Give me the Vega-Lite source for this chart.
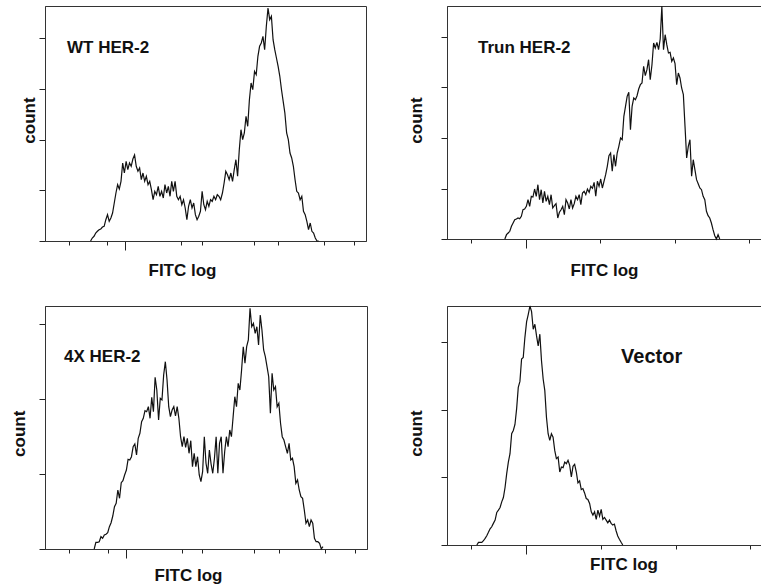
{
  "$schema": "https://vega.github.io/schema/vega-lite/v6.json",
  "background": "white",
  "padding": {"left": 9, "top": 3, "right": 0, "bottom": 0},
  "columns": 2,
  "bounds": "flush",
  "spacing": {"row": 65, "column": 80},
  "config": {
    "view": {"stroke": "#333333", "strokeWidth": 1},
    "font": "Liberation Sans",
    "axis": {"labels": false, "grid": false, "tickColor": "#222222", "domainColor": "#333333", "titleFont": "Liberation Sans", "titleFontSize": 17, "titleFontWeight": "bold", "titleColor": "#111111", "titleBaseline": "alphabetic", "titleAlign": "center"},
    "axisY": {"tickSize": 6, "titleAngle": 270},
    "line": {"color": "#111111", "strokeWidth": 1.2},
    "text": {"font": "Liberation Sans", "fontWeight": "bold", "color": "#111111", "align": "left", "baseline": "alphabetic"}
  },
  "datasets": {
    "wt": [
      {"fitc_log":0.568,"count":0},{"fitc_log":0.589,"count":3},{"fitc_log":0.611,"count":4.7},{"fitc_log":0.632,"count":8},{"fitc_log":0.653,"count":9.7},{"fitc_log":0.674,"count":11.3},{"fitc_log":0.695,"count":12},{"fitc_log":0.716,"count":14},{"fitc_log":0.737,"count":14.7},{"fitc_log":0.758,"count":21.3},{"fitc_log":0.779,"count":26.3},{"fitc_log":0.8,"count":19.7},{"fitc_log":0.821,"count":23},{"fitc_log":0.842,"count":28},{"fitc_log":0.863,"count":38},{"fitc_log":0.884,"count":48},{"fitc_log":0.905,"count":56.3},{"fitc_log":0.926,"count":52},{"fitc_log":0.947,"count":59.7},{"fitc_log":0.968,"count":78},{"fitc_log":0.989,"count":68},{"fitc_log":1.011,"count":79.7},{"fitc_log":1.032,"count":71.3},{"fitc_log":1.053,"count":78},{"fitc_log":1.074,"count":74.7},{"fitc_log":1.095,"count":82},{"fitc_log":1.116,"count":86},{"fitc_log":1.137,"count":74.7},{"fitc_log":1.158,"count":69.7},{"fitc_log":1.179,"count":73},{"fitc_log":1.2,"count":61.3},{"fitc_log":1.221,"count":68},{"fitc_log":1.242,"count":59.7},{"fitc_log":1.263,"count":64.7},{"fitc_log":1.284,"count":56.3},{"fitc_log":1.305,"count":59.7},{"fitc_log":1.326,"count":51.3},{"fitc_log":1.347,"count":41.3},{"fitc_log":1.368,"count":49.7},{"fitc_log":1.389,"count":46.3},{"fitc_log":1.411,"count":54.7},{"fitc_log":1.432,"count":44.7},{"fitc_log":1.453,"count":49.7},{"fitc_log":1.474,"count":43},{"fitc_log":1.495,"count":56.3},{"fitc_log":1.516,"count":48},{"fitc_log":1.537,"count":54.7},{"fitc_log":1.558,"count":44.7},{"fitc_log":1.579,"count":59.7},{"fitc_log":1.6,"count":49.7},{"fitc_log":1.621,"count":59.7},{"fitc_log":1.642,"count":44.7},{"fitc_log":1.663,"count":41.3},{"fitc_log":1.684,"count":44.7},{"fitc_log":1.705,"count":36.3},{"fitc_log":1.726,"count":41.3},{"fitc_log":1.747,"count":33},{"fitc_log":1.768,"count":21.3},{"fitc_log":1.789,"count":34.7},{"fitc_log":1.811,"count":41.3},{"fitc_log":1.832,"count":33},{"fitc_log":1.853,"count":38},{"fitc_log":1.874,"count":26.3},{"fitc_log":1.895,"count":21.3},{"fitc_log":1.916,"count":24.7},{"fitc_log":1.937,"count":29.7},{"fitc_log":1.958,"count":49.7},{"fitc_log":1.979,"count":36.3},{"fitc_log":2.0,"count":31.3},{"fitc_log":2.021,"count":39.7},{"fitc_log":2.042,"count":34.7},{"fitc_log":2.063,"count":41.3},{"fitc_log":2.084,"count":39.7},{"fitc_log":2.105,"count":44.7},{"fitc_log":2.126,"count":41.3},{"fitc_log":2.147,"count":46.3},{"fitc_log":2.168,"count":44.7},{"fitc_log":2.189,"count":41.3},{"fitc_log":2.211,"count":48},{"fitc_log":2.232,"count":58},{"fitc_log":2.253,"count":69.7},{"fitc_log":2.274,"count":66.3},{"fitc_log":2.295,"count":61.3},{"fitc_log":2.316,"count":68},{"fitc_log":2.337,"count":59.7},{"fitc_log":2.358,"count":71.3},{"fitc_log":2.379,"count":81.3},{"fitc_log":2.4,"count":64.7},{"fitc_log":2.421,"count":91.3},{"fitc_log":2.442,"count":111.3},{"fitc_log":2.463,"count":101.3},{"fitc_log":2.484,"count":108},{"fitc_log":2.505,"count":124.7},{"fitc_log":2.526,"count":114.7},{"fitc_log":2.547,"count":141.3},{"fitc_log":2.568,"count":158},{"fitc_log":2.589,"count":151.3},{"fitc_log":2.611,"count":169.7},{"fitc_log":2.632,"count":166.3},{"fitc_log":2.653,"count":184.7},{"fitc_log":2.674,"count":194.7},{"fitc_log":2.695,"count":198},{"fitc_log":2.716,"count":204.7},{"fitc_log":2.737,"count":191.3},{"fitc_log":2.758,"count":214.7},{"fitc_log":2.779,"count":233},{"fitc_log":2.8,"count":221.3},{"fitc_log":2.821,"count":224.7},{"fitc_log":2.842,"count":201.3},{"fitc_log":2.863,"count":191.3},{"fitc_log":2.884,"count":183},{"fitc_log":2.905,"count":174.7},{"fitc_log":2.926,"count":164.7},{"fitc_log":2.947,"count":151.3},{"fitc_log":2.968,"count":139.7},{"fitc_log":2.989,"count":128},{"fitc_log":3.011,"count":108},{"fitc_log":3.032,"count":101.3},{"fitc_log":3.053,"count":88},{"fitc_log":3.074,"count":83},{"fitc_log":3.095,"count":74.7},{"fitc_log":3.116,"count":61.3},{"fitc_log":3.137,"count":49.7},{"fitc_log":3.158,"count":48},{"fitc_log":3.179,"count":41.3},{"fitc_log":3.2,"count":44.7},{"fitc_log":3.221,"count":29.7},{"fitc_log":3.242,"count":26.3},{"fitc_log":3.263,"count":19.7},{"fitc_log":3.284,"count":11.3},{"fitc_log":3.305,"count":18},{"fitc_log":3.326,"count":9.7},{"fitc_log":3.347,"count":8},{"fitc_log":3.368,"count":3},{"fitc_log":3.389,"count":0},{"fitc_log":3.411,"count":0}
    ],
    "trun": [
      {"fitc_log":0.737,"count":0},{"fitc_log":0.758,"count":4.3},{"fitc_log":0.779,"count":6},{"fitc_log":0.8,"count":7.7},{"fitc_log":0.821,"count":12.7},{"fitc_log":0.842,"count":16},{"fitc_log":0.863,"count":19.3},{"fitc_log":0.884,"count":20},{"fitc_log":0.905,"count":21},{"fitc_log":0.926,"count":20.3},{"fitc_log":0.947,"count":22.7},{"fitc_log":0.968,"count":29.3},{"fitc_log":0.989,"count":30},{"fitc_log":1.011,"count":32.7},{"fitc_log":1.032,"count":39.3},{"fitc_log":1.053,"count":32.7},{"fitc_log":1.074,"count":42.7},{"fitc_log":1.095,"count":42},{"fitc_log":1.116,"count":50},{"fitc_log":1.137,"count":42.7},{"fitc_log":1.158,"count":54.3},{"fitc_log":1.179,"count":39.3},{"fitc_log":1.2,"count":49.3},{"fitc_log":1.221,"count":36},{"fitc_log":1.242,"count":47.7},{"fitc_log":1.263,"count":37.7},{"fitc_log":1.284,"count":42.7},{"fitc_log":1.305,"count":34.3},{"fitc_log":1.326,"count":44.3},{"fitc_log":1.347,"count":31},{"fitc_log":1.368,"count":33.3},{"fitc_log":1.389,"count":35.3},{"fitc_log":1.411,"count":21},{"fitc_log":1.432,"count":26.7},{"fitc_log":1.453,"count":29.3},{"fitc_log":1.474,"count":32.7},{"fitc_log":1.495,"count":24.3},{"fitc_log":1.516,"count":39.3},{"fitc_log":1.537,"count":36},{"fitc_log":1.558,"count":30},{"fitc_log":1.579,"count":39.3},{"fitc_log":1.6,"count":31},{"fitc_log":1.621,"count":35.3},{"fitc_log":1.642,"count":42.7},{"fitc_log":1.663,"count":39.3},{"fitc_log":1.684,"count":44.3},{"fitc_log":1.705,"count":34.3},{"fitc_log":1.726,"count":46},{"fitc_log":1.747,"count":47.7},{"fitc_log":1.768,"count":44.3},{"fitc_log":1.789,"count":50},{"fitc_log":1.811,"count":46.7},{"fitc_log":1.832,"count":52.7},{"fitc_log":1.853,"count":50.7},{"fitc_log":1.874,"count":56.7},{"fitc_log":1.895,"count":42.7},{"fitc_log":1.916,"count":57.7},{"fitc_log":1.937,"count":52.7},{"fitc_log":1.958,"count":60},{"fitc_log":1.979,"count":51},{"fitc_log":2.0,"count":57.7},{"fitc_log":2.021,"count":64.3},{"fitc_log":2.042,"count":72.7},{"fitc_log":2.063,"count":83.3},{"fitc_log":2.084,"count":86},{"fitc_log":2.105,"count":67.7},{"fitc_log":2.126,"count":84.3},{"fitc_log":2.147,"count":72.7},{"fitc_log":2.168,"count":86},{"fitc_log":2.189,"count":92.7},{"fitc_log":2.211,"count":101},{"fitc_log":2.232,"count":99.3},{"fitc_log":2.253,"count":122.7},{"fitc_log":2.274,"count":132.7},{"fitc_log":2.295,"count":142.7},{"fitc_log":2.316,"count":146.7},{"fitc_log":2.337,"count":109.3},{"fitc_log":2.358,"count":132.7},{"fitc_log":2.379,"count":141},{"fitc_log":2.4,"count":139.3},{"fitc_log":2.421,"count":143.3},{"fitc_log":2.442,"count":150},{"fitc_log":2.463,"count":154.3},{"fitc_log":2.484,"count":156},{"fitc_log":2.505,"count":172.7},{"fitc_log":2.526,"count":163.3},{"fitc_log":2.547,"count":169.3},{"fitc_log":2.568,"count":179.3},{"fitc_log":2.589,"count":159.3},{"fitc_log":2.611,"count":174.3},{"fitc_log":2.632,"count":196},{"fitc_log":2.653,"count":191},{"fitc_log":2.674,"count":196.7},{"fitc_log":2.695,"count":189.3},{"fitc_log":2.716,"count":200},{"fitc_log":2.737,"count":232.7},{"fitc_log":2.758,"count":189.3},{"fitc_log":2.779,"count":204.3},{"fitc_log":2.8,"count":194.3},{"fitc_log":2.821,"count":186},{"fitc_log":2.842,"count":186.7},{"fitc_log":2.863,"count":177.7},{"fitc_log":2.884,"count":181},{"fitc_log":2.905,"count":175.3},{"fitc_log":2.926,"count":154.3},{"fitc_log":2.947,"count":166},{"fitc_log":2.968,"count":161},{"fitc_log":2.989,"count":151},{"fitc_log":3.011,"count":144.3},{"fitc_log":3.032,"count":112.7},{"fitc_log":3.053,"count":81},{"fitc_log":3.074,"count":92.7},{"fitc_log":3.095,"count":99.3},{"fitc_log":3.116,"count":62.7},{"fitc_log":3.137,"count":79.3},{"fitc_log":3.158,"count":69.3},{"fitc_log":3.179,"count":59.3},{"fitc_log":3.2,"count":55.3},{"fitc_log":3.221,"count":51},{"fitc_log":3.242,"count":49.3},{"fitc_log":3.263,"count":42.7},{"fitc_log":3.284,"count":39.3},{"fitc_log":3.305,"count":27.7},{"fitc_log":3.326,"count":23.3},{"fitc_log":3.347,"count":21},{"fitc_log":3.368,"count":16},{"fitc_log":3.389,"count":9.3},{"fitc_log":3.411,"count":3.3},{"fitc_log":3.432,"count":0},{"fitc_log":3.453,"count":4.3},{"fitc_log":3.474,"count":0}
    ],
    "x4": [
      {"fitc_log":0.611,"count":0},{"fitc_log":0.632,"count":6.7},{"fitc_log":0.653,"count":6.7},{"fitc_log":0.674,"count":7.3},{"fitc_log":0.695,"count":12.3},{"fitc_log":0.716,"count":10.7},{"fitc_log":0.737,"count":14},{"fitc_log":0.758,"count":14.7},{"fitc_log":0.779,"count":16.3},{"fitc_log":0.8,"count":22.3},{"fitc_log":0.821,"count":26.3},{"fitc_log":0.842,"count":33},{"fitc_log":0.863,"count":42.3},{"fitc_log":0.884,"count":45.7},{"fitc_log":0.905,"count":59},{"fitc_log":0.926,"count":50.7},{"fitc_log":0.947,"count":66.3},{"fitc_log":0.968,"count":68.3},{"fitc_log":0.989,"count":74},{"fitc_log":1.011,"count":79},{"fitc_log":1.032,"count":89.7},{"fitc_log":1.053,"count":89},{"fitc_log":1.074,"count":92.3},{"fitc_log":1.095,"count":102.3},{"fitc_log":1.116,"count":105},{"fitc_log":1.137,"count":94},{"fitc_log":1.158,"count":110.7},{"fitc_log":1.179,"count":115.7},{"fitc_log":1.2,"count":127.3},{"fitc_log":1.221,"count":130.7},{"fitc_log":1.242,"count":138.3},{"fitc_log":1.263,"count":137.3},{"fitc_log":1.284,"count":142.3},{"fitc_log":1.305,"count":130.7},{"fitc_log":1.326,"count":151.7},{"fitc_log":1.347,"count":137.3},{"fitc_log":1.368,"count":171.7},{"fitc_log":1.389,"count":159},{"fitc_log":1.411,"count":129},{"fitc_log":1.432,"count":150.7},{"fitc_log":1.453,"count":149},{"fitc_log":1.474,"count":174},{"fitc_log":1.495,"count":187.3},{"fitc_log":1.516,"count":169},{"fitc_log":1.537,"count":142.3},{"fitc_log":1.558,"count":132.3},{"fitc_log":1.579,"count":139},{"fitc_log":1.6,"count":142.3},{"fitc_log":1.621,"count":133},{"fitc_log":1.642,"count":142.3},{"fitc_log":1.663,"count":130.7},{"fitc_log":1.684,"count":112.3},{"fitc_log":1.705,"count":102.3},{"fitc_log":1.726,"count":112.3},{"fitc_log":1.747,"count":101.7},{"fitc_log":1.768,"count":110.7},{"fitc_log":1.789,"count":95.7},{"fitc_log":1.811,"count":108.3},{"fitc_log":1.832,"count":82.3},{"fitc_log":1.853,"count":95.7},{"fitc_log":1.874,"count":82.3},{"fitc_log":1.895,"count":92.3},{"fitc_log":1.916,"count":74},{"fitc_log":1.937,"count":67.3},{"fitc_log":1.958,"count":77.3},{"fitc_log":1.979,"count":112.3},{"fitc_log":2.0,"count":85.7},{"fitc_log":2.021,"count":75.7},{"fitc_log":2.042,"count":99},{"fitc_log":2.063,"count":85},{"fitc_log":2.084,"count":75.7},{"fitc_log":2.105,"count":90.7},{"fitc_log":2.126,"count":112.3},{"fitc_log":2.147,"count":75.7},{"fitc_log":2.168,"count":105.7},{"fitc_log":2.189,"count":112.3},{"fitc_log":2.211,"count":75.7},{"fitc_log":2.232,"count":97.3},{"fitc_log":2.253,"count":112.3},{"fitc_log":2.274,"count":102.3},{"fitc_log":2.295,"count":119},{"fitc_log":2.316,"count":112.3},{"fitc_log":2.337,"count":132.3},{"fitc_log":2.358,"count":152.3},{"fitc_log":2.379,"count":142.3},{"fitc_log":2.4,"count":165.7},{"fitc_log":2.421,"count":159},{"fitc_log":2.442,"count":179},{"fitc_log":2.463,"count":202.3},{"fitc_log":2.484,"count":185.7},{"fitc_log":2.505,"count":202.3},{"fitc_log":2.526,"count":209},{"fitc_log":2.547,"count":240.7},{"fitc_log":2.568,"count":222.3},{"fitc_log":2.589,"count":225.7},{"fitc_log":2.611,"count":215.7},{"fitc_log":2.632,"count":222.3},{"fitc_log":2.653,"count":204},{"fitc_log":2.674,"count":234},{"fitc_log":2.695,"count":219},{"fitc_log":2.716,"count":199},{"fitc_log":2.737,"count":192.3},{"fitc_log":2.758,"count":182.3},{"fitc_log":2.779,"count":172.3},{"fitc_log":2.8,"count":135.7},{"fitc_log":2.821,"count":175.7},{"fitc_log":2.842,"count":159},{"fitc_log":2.863,"count":162.3},{"fitc_log":2.884,"count":142.3},{"fitc_log":2.905,"count":145.7},{"fitc_log":2.926,"count":125.7},{"fitc_log":2.947,"count":112.3},{"fitc_log":2.968,"count":109},{"fitc_log":2.989,"count":102.3},{"fitc_log":3.011,"count":95.7},{"fitc_log":3.032,"count":105.7},{"fitc_log":3.053,"count":89},{"fitc_log":3.074,"count":90.7},{"fitc_log":3.095,"count":82.3},{"fitc_log":3.116,"count":65.7},{"fitc_log":3.137,"count":69},{"fitc_log":3.158,"count":59},{"fitc_log":3.179,"count":52.3},{"fitc_log":3.2,"count":50.7},{"fitc_log":3.221,"count":39},{"fitc_log":3.242,"count":25.7},{"fitc_log":3.263,"count":29},{"fitc_log":3.284,"count":22.3},{"fitc_log":3.305,"count":29},{"fitc_log":3.326,"count":25.7},{"fitc_log":3.347,"count":10.7},{"fitc_log":3.368,"count":7.3},{"fitc_log":3.389,"count":7.3},{"fitc_log":3.411,"count":5.7},{"fitc_log":3.432,"count":0},{"fitc_log":3.453,"count":2.3}
    ],
    "vector": [
      {"fitc_log":0.379,"count":0},{"fitc_log":0.4,"count":2.7},{"fitc_log":0.421,"count":2.7},{"fitc_log":0.442,"count":2.7},{"fitc_log":0.463,"count":4.3},{"fitc_log":0.484,"count":6.7},{"fitc_log":0.505,"count":9.3},{"fitc_log":0.526,"count":12.7},{"fitc_log":0.547,"count":16.3},{"fitc_log":0.568,"count":18.3},{"fitc_log":0.589,"count":21.7},{"fitc_log":0.611,"count":25},{"fitc_log":0.632,"count":32.7},{"fitc_log":0.653,"count":35},{"fitc_log":0.674,"count":37.7},{"fitc_log":0.695,"count":43.3},{"fitc_log":0.716,"count":47.7},{"fitc_log":0.737,"count":57.7},{"fitc_log":0.758,"count":71.7},{"fitc_log":0.779,"count":83.3},{"fitc_log":0.8,"count":91.7},{"fitc_log":0.821,"count":111.7},{"fitc_log":0.842,"count":115},{"fitc_log":0.863,"count":121},{"fitc_log":0.884,"count":136.7},{"fitc_log":0.905,"count":158.3},{"fitc_log":0.926,"count":164.3},{"fitc_log":0.947,"count":186.7},{"fitc_log":0.968,"count":188.3},{"fitc_log":0.989,"count":208.3},{"fitc_log":1.011,"count":224.3},{"fitc_log":1.032,"count":231.7},{"fitc_log":1.053,"count":240},{"fitc_log":1.074,"count":234.3},{"fitc_log":1.095,"count":216.7},{"fitc_log":1.116,"count":221.7},{"fitc_log":1.137,"count":210},{"fitc_log":1.158,"count":200},{"fitc_log":1.179,"count":211.7},{"fitc_log":1.2,"count":185},{"fitc_log":1.221,"count":166.7},{"fitc_log":1.242,"count":155},{"fitc_log":1.263,"count":128.3},{"fitc_log":1.284,"count":111.7},{"fitc_log":1.305,"count":105},{"fitc_log":1.326,"count":111.7},{"fitc_log":1.347,"count":108.3},{"fitc_log":1.368,"count":95},{"fitc_log":1.389,"count":86.7},{"fitc_log":1.411,"count":88.3},{"fitc_log":1.432,"count":73.3},{"fitc_log":1.453,"count":78.3},{"fitc_log":1.474,"count":77.7},{"fitc_log":1.495,"count":83.3},{"fitc_log":1.516,"count":81.7},{"fitc_log":1.537,"count":85},{"fitc_log":1.558,"count":80},{"fitc_log":1.579,"count":68.3},{"fitc_log":1.6,"count":79},{"fitc_log":1.621,"count":81},{"fitc_log":1.642,"count":73.3},{"fitc_log":1.663,"count":62.3},{"fitc_log":1.684,"count":64.3},{"fitc_log":1.705,"count":55.7},{"fitc_log":1.726,"count":56.7},{"fitc_log":1.747,"count":52.3},{"fitc_log":1.768,"count":46.7},{"fitc_log":1.789,"count":45.7},{"fitc_log":1.811,"count":41.7},{"fitc_log":1.832,"count":33.3},{"fitc_log":1.853,"count":30},{"fitc_log":1.874,"count":33.3},{"fitc_log":1.895,"count":25.7},{"fitc_log":1.916,"count":35},{"fitc_log":1.937,"count":29},{"fitc_log":1.958,"count":35.7},{"fitc_log":1.979,"count":25.7},{"fitc_log":2.0,"count":27.7},{"fitc_log":2.021,"count":25},{"fitc_log":2.042,"count":22.3},{"fitc_log":2.063,"count":25},{"fitc_log":2.084,"count":21.7},{"fitc_log":2.105,"count":20},{"fitc_log":2.126,"count":21},{"fitc_log":2.147,"count":14.3},{"fitc_log":2.168,"count":9},{"fitc_log":2.189,"count":5.7},{"fitc_log":2.211,"count":2.7},{"fitc_log":2.232,"count":0}
    ]
  },
  "concat": [
    {
      "width": 321, "height": 235,
      "layer": [
        {
          "data": {"name": "wt"},
          "mark": {"type": "line"},
          "encoding": {
            "x": {"field": "fitc_log", "type": "quantitative", "scale": {"domain": [0, 4], "nice": false, "zero": false},
              "axis": {"title": "FITC log", "titleX": 137, "titleY": 34.5,
                "values": [0.30103,0.47712,0.60206,0.69897,0.77815,0.8451,0.90309,0.95424,1,1.30103,1.47712,1.60206,1.69897,1.77815,1.8451,1.90309,1.95424,2,2.30103,2.47712,2.60206,2.69897,2.77815,2.8451,2.90309,2.95424,3,3.30103,3.47712,3.60206,3.69897,3.77815,3.8451,3.90309,3.95424,4],
                "tickSize": {"condition": {"test": "datum.value % 1 === 0", "value": 9}, "value": 4}}},
            "y": {"field": "count", "type": "quantitative", "scale": {"domain": [0, 235], "nice": false},
              "axis": {"title": "count", "titleX": -10.7, "titleY": 114, "values": [0, 50.7, 101.3, 152, 202.7]}}
          }
        },
        {
          "data": {"values": [{"label": "WT HER-2", "fitc_log": 0.274, "count": 188}]},
          "mark": {"type": "text", "fontSize": 17},
          "encoding": {
            "x": {"field": "fitc_log", "type": "quantitative"},
            "y": {"field": "count", "type": "quantitative"},
            "text": {"field": "label"}
          }
        }
      ]
    },
    {
      "width": 314, "height": 233,
      "layer": [
        {
          "data": {"name": "trun"},
          "mark": {"type": "line"},
          "encoding": {
            "x": {"field": "fitc_log", "type": "quantitative", "scale": {"domain": [0, 4], "nice": false, "zero": false},
              "axis": {"title": "FITC log", "titleX": 157, "titleY": 36.5,
                "values": [0.30103,0.47712,0.60206,0.69897,0.77815,0.8451,0.90309,0.95424,1,1.30103,1.47712,1.60206,1.69897,1.77815,1.8451,1.90309,1.95424,2,2.30103,2.47712,2.60206,2.69897,2.77815,2.8451,2.90309,2.95424,3,3.30103,3.47712,3.60206,3.69897,3.77815,3.8451,3.90309,3.95424,4],
                "tickSize": {"condition": {"test": "datum.value % 1 === 0", "value": 9}, "value": 4}}},
            "y": {"field": "count", "type": "quantitative", "scale": {"domain": [0, 233], "nice": false},
              "axis": {"title": "count", "titleX": -26, "titleY": 114, "values": [0, 50.5, 101, 151.5, 202]}}
          }
        },
        {
          "data": {"values": [{"label": "Trun HER-2", "fitc_log": 0.395, "count": 186}]},
          "mark": {"type": "text", "fontSize": 17},
          "encoding": {
            "x": {"field": "fitc_log", "type": "quantitative"},
            "y": {"field": "count", "type": "quantitative"},
            "text": {"field": "label"}
          }
        }
      ]
    },
    {
      "width": 322, "height": 243,
      "layer": [
        {
          "data": {"name": "x4"},
          "mark": {"type": "line"},
          "encoding": {
            "x": {"field": "fitc_log", "type": "quantitative", "scale": {"domain": [0, 4], "nice": false, "zero": false},
              "axis": {"title": "FITC log", "titleX": 143, "titleY": 31,
                "values": [0.30103,0.47712,0.60206,0.69897,0.77815,0.8451,0.90309,0.95424,1,1.30103,1.47712,1.60206,1.69897,1.77815,1.8451,1.90309,1.95424,2,2.30103,2.47712,2.60206,2.69897,2.77815,2.8451,2.90309,2.95424,3,3.30103,3.47712,3.60206,3.69897,3.77815,3.8451,3.90309,3.95424,4],
                "tickSize": {"condition": {"test": "datum.value % 1 === 0", "value": 9}, "value": 4}}},
            "y": {"field": "count", "type": "quantitative", "scale": {"domain": [0, 243], "nice": false},
              "axis": {"title": "count", "titleX": -20.7, "titleY": 127.3, "values": [0, 75, 150, 225]}}
          }
        },
        {
          "data": {"values": [{"label": "4X HER-2", "fitc_log": 0.236, "count": 187}]},
          "mark": {"type": "text", "fontSize": 17},
          "encoding": {
            "x": {"field": "fitc_log", "type": "quantitative"},
            "y": {"field": "count", "type": "quantitative"},
            "text": {"field": "label"}
          }
        }
      ]
    },
    {
      "width": 315, "height": 239,
      "layer": [
        {
          "data": {"name": "vector"},
          "mark": {"type": "line"},
          "encoding": {
            "x": {"field": "fitc_log", "type": "quantitative", "scale": {"domain": [0, 4], "nice": false, "zero": false},
              "axis": {"title": "FITC log", "titleX": 176.5, "titleY": 24,
                "values": [0.30103,0.47712,0.60206,0.69897,0.77815,0.8451,0.90309,0.95424,1,1.30103,1.47712,1.60206,1.69897,1.77815,1.8451,1.90309,1.95424,2,2.30103,2.47712,2.60206,2.69897,2.77815,2.8451,2.90309,2.95424,3,3.30103,3.47712,3.60206,3.69897,3.77815,3.8451,3.90309,3.95424,4],
                "tickSize": {"condition": {"test": "datum.value % 1 === 0", "value": 9}, "value": 4}}},
            "y": {"field": "count", "type": "quantitative", "scale": {"domain": [0, 240], "nice": false},
              "axis": {"title": "count", "titleX": -25.3, "titleY": 127, "values": [0, 34, 68, 102, 136, 170, 204, 238]}}
          }
        },
        {
          "data": {"values": [{"label": "Vector", "fitc_log": 2.21, "count": 183}]},
          "mark": {"type": "text", "fontSize": 20},
          "encoding": {
            "x": {"field": "fitc_log", "type": "quantitative"},
            "y": {"field": "count", "type": "quantitative"},
            "text": {"field": "label"}
          }
        }
      ]
    }
  ]
}
